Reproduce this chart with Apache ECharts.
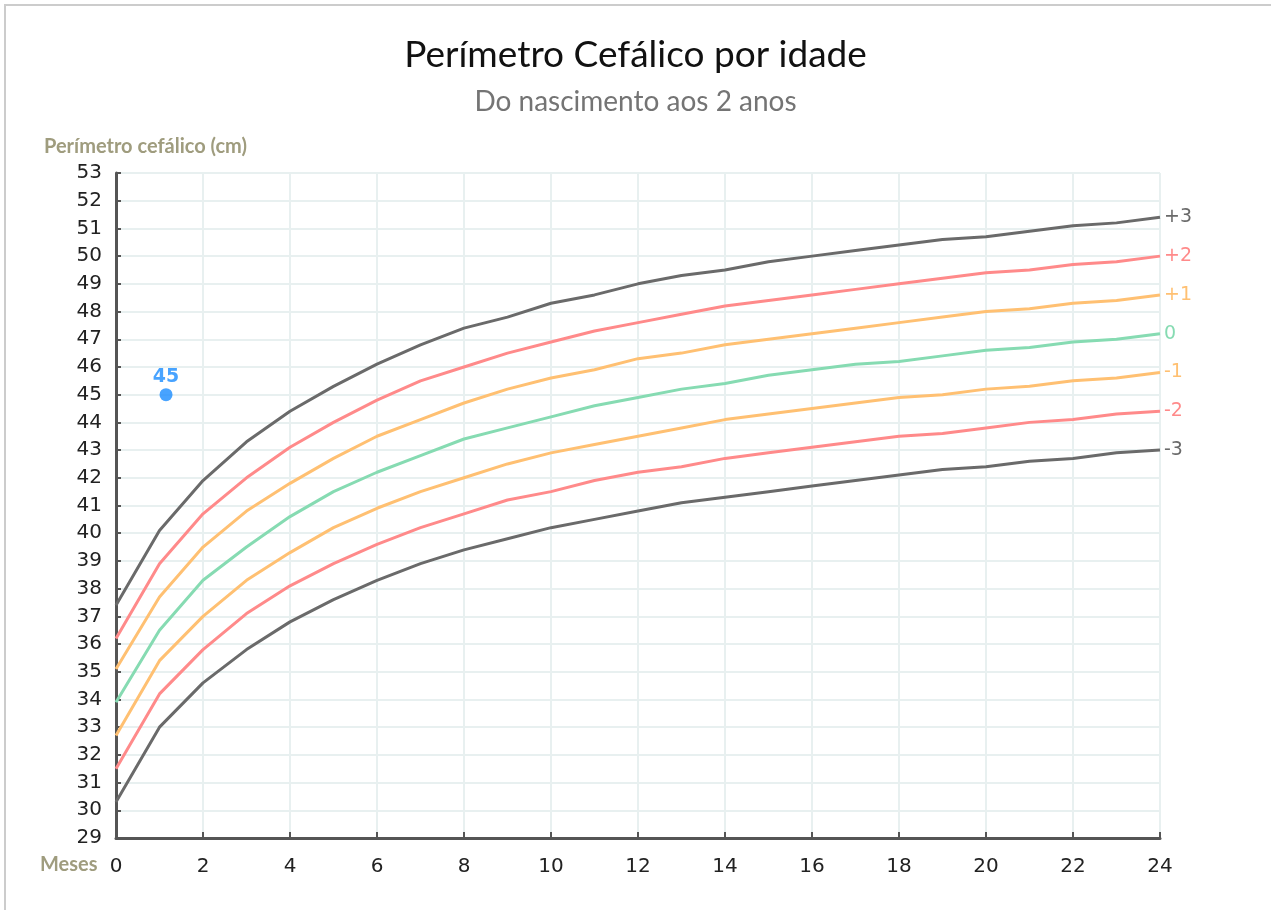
<!DOCTYPE html>
<html>
<head>
<meta charset="utf-8">
<title>Perímetro Cefálico por idade</title>
<script src="https://cdn.jsdelivr.net/npm/echarts@6/dist/echarts.min.js"></script>
<style>
  html, body { margin: 0; padding: 0; background: #fff; }
  #chart { width: 1271px; height: 910px; }
</style>
</head>
<body>
<div id="chart"></div>
<script>
// Age in months (0 to 24)
const months = [0,1,2,3,4,5,6,7,8,9,10,11,12,13,14,15,16,17,18,19,20,21,22,23,24];

// Head circumference reference curves (cm) by z-score
const zPlus3  = [37.4,40.1,41.9,43.3,44.4,45.3,46.1,46.8,47.4,47.8,48.3,48.6,49.0,49.3,49.5,49.8,50.0,50.2,50.4,50.6,50.7,50.9,51.1,51.2,51.4];
const zPlus2  = [36.2,38.9,40.7,42.0,43.1,44.0,44.8,45.5,46.0,46.5,46.9,47.3,47.6,47.9,48.2,48.4,48.6,48.8,49.0,49.2,49.4,49.5,49.7,49.8,50.0];
const zPlus1  = [35.1,37.7,39.5,40.8,41.8,42.7,43.5,44.1,44.7,45.2,45.6,45.9,46.3,46.5,46.8,47.0,47.2,47.4,47.6,47.8,48.0,48.1,48.3,48.4,48.6];
const zZero   = [33.9,36.5,38.3,39.5,40.6,41.5,42.2,42.8,43.4,43.8,44.2,44.6,44.9,45.2,45.4,45.7,45.9,46.1,46.2,46.4,46.6,46.7,46.9,47.0,47.2];
const zMinus1 = [32.7,35.4,37.0,38.3,39.3,40.2,40.9,41.5,42.0,42.5,42.9,43.2,43.5,43.8,44.1,44.3,44.5,44.7,44.9,45.0,45.2,45.3,45.5,45.6,45.8];
const zMinus2 = [31.5,34.2,35.8,37.1,38.1,38.9,39.6,40.2,40.7,41.2,41.5,41.9,42.2,42.4,42.7,42.9,43.1,43.3,43.5,43.6,43.8,44.0,44.1,44.3,44.4];
const zMinus3 = [30.3,33.0,34.6,35.8,36.8,37.6,38.3,38.9,39.4,39.8,40.2,40.5,40.8,41.1,41.3,41.5,41.7,41.9,42.1,42.3,42.4,42.6,42.7,42.9,43.0];

// Curve names shown at the right end of each line
const curveLabels = ['+3', '+2', '+1', '0', '-1', '-2', '-3'];

// Measured value: [age in months, head circumference in cm]
const measurement = [1.15, 45];

const curves = [zPlus3, zPlus2, zPlus1, zZero, zMinus1, zMinus2, zMinus3];
const colors = ['#6a6a6a', '#ff8a8a', '#ffc072', '#86dbb2', '#ffc072', '#ff8a8a', '#6a6a6a'];

const tickFont = 'DejaVu Sans, Verdana, sans-serif';
const nameColor = '#9f9c7e';

const lineSeries = curves.map((vals, i) => ({
  name: curveLabels[i],
  type: 'line',
  data: months.map((m, j) => [m, vals[j]]),
  showSymbol: false,
  symbol: 'none',
  silent: true,
  lineStyle: { color: colors[i], width: 3 },
  itemStyle: { color: colors[i] },
  z: 3,
  endLabel: {
    show: true,
    formatter: curveLabels[i],
    color: colors[i],
    fontFamily: tickFont,
    fontSize: 19,
    distance: 4
  }
}));

const chart = echarts.init(document.getElementById('chart'), null, { renderer: 'canvas' });

chart.setOption({
  animation: false,
  backgroundColor: '#ffffff',
  title: [
    {
      text: 'Perímetro Cefálico por idade',
      left: 'center',
      top: 32,
      textStyle: { fontFamily: 'Lato', fontSize: 37, fontWeight: 'normal', color: '#111111' }
    },
    {
      text: 'Do nascimento aos 2 anos',
      left: 'center',
      top: 83,
      textStyle: { fontFamily: 'Lato', fontSize: 28, fontWeight: 'normal', color: '#747474' }
    }
  ],
  graphic: [
    { type: 'line', shape: { x1: 4, y1: 5, x2: 1271, y2: 5 }, style: { stroke: '#cccccc', lineWidth: 2 } },
    { type: 'line', shape: { x1: 5, y1: 4, x2: 5, y2: 910 }, style: { stroke: '#cccccc', lineWidth: 2 } },
    {
      type: 'text', left: 44, top: 137,
      style: { text: 'Perímetro cefálico (cm)', font: 'bold 20px Lato', fill: nameColor }
    },
    {
      type: 'text', left: 40, top: 855,
      style: { text: 'Meses', font: 'bold 20px Lato', fill: nameColor }
    }
  ],
  grid: { left: 116, right: 111, top: 173, bottom: 72, containLabel: false },
  xAxis: {
    type: 'value',
    min: 0,
    max: 24,
    interval: 2,
    axisLine: { show: true, onZero: false, lineStyle: { color: '#555555', width: 3 } },
    axisTick: { show: true, inside: true, length: 6, lineStyle: { color: '#555555', width: 2 } },
    axisLabel: { fontFamily: tickFont, fontSize: 20, color: '#222222', margin: 19 },
    splitLine: { show: true, lineStyle: { color: '#e8f0f0', width: 2 } }
  },
  yAxis: {
    type: 'value',
    min: 29,
    max: 53,
    interval: 1,
    axisLine: { show: true, onZero: false, lineStyle: { color: '#555555', width: 3 } },
    axisTick: { show: true, inside: true, length: 5, lineStyle: { color: '#555555', width: 2 } },
    axisLabel: { fontFamily: tickFont, fontSize: 20, color: '#222222', margin: 14 },
    splitLine: { show: true, lineStyle: { color: '#e8f0f0', width: 2 } }
  },
  series: lineSeries.concat([{
    name: 'Medida',
    type: 'scatter',
    data: [measurement],
    symbol: 'circle',
    symbolSize: 13,
    itemStyle: { color: '#1a8cff' },
    z: 5,
    label: {
      show: true,
      position: 'top',
      distance: 2,
      formatter: p => p.value[1],
      fontFamily: tickFont,
      fontWeight: 'bold',
      fontSize: 19,
      color: '#1a8cff'
    }
  }])
});
</script>
</body>
</html>
